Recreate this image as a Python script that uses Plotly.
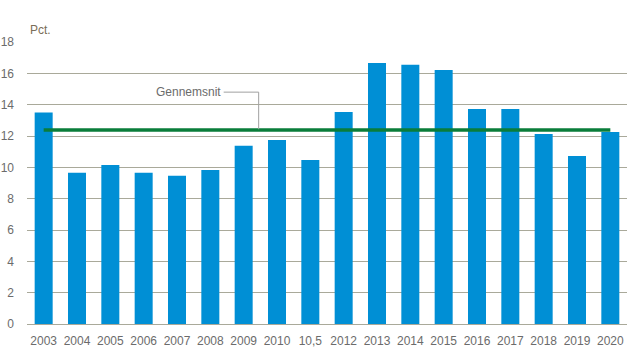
import plotly.graph_objects as go

categories = ["2003", "2004", "2005", "2006", "2007", "2008", "2009", "2010", "10,5",
              "2012", "2013", "2014", "2015", "2016", "2017", "2018", "2019", "2020"]
values = [13.5, 9.65, 10.15, 9.65, 9.47, 9.83, 11.37, 11.75, 10.47,
          13.53, 16.66, 16.55, 16.22, 13.73, 13.73, 12.13, 10.73, 12.25]
average = 12.38
y_ticks = [0, 2, 4, 6, 8, 10, 12, 14, 16, 18]

FONT = "Liberation Sans, Arial, sans-serif"
TXT = "#6b6b6b"
GRID = "#a9a99a"

fig = go.Figure()
fig.add_trace(go.Bar(x=categories, y=values, marker_color="#008fd5",
                     marker_line_width=0, width=0.54, showlegend=False))
fig.add_trace(go.Scatter(x=categories, y=[average] * len(categories), mode="lines",
                         line=dict(color="#0a7d3a", width=3.5), showlegend=False))

# label + elbow connector
fig.add_annotation(x=4.35, y=14.8, xref="x", yref="y", text="Gennemsnit",
                   showarrow=False, xanchor="center", yanchor="middle",
                   font=dict(family=FONT, size=12, color=TXT))
fig.add_shape(type="path", xref="x", yref="y",
              path=f"M 5.4 14.8 L 6.45 14.8 L 6.45 {average + 0.05}",
              line=dict(color="#a0a0a0", width=1))

fig.add_annotation(x=0, y=1, xref="paper", yref="paper", text="Pct.",
                   showarrow=False, xanchor="left", yanchor="bottom", xshift=1, yshift=3,
                   font=dict(family=FONT, size=12, color="#7a6e58"))

fig.update_layout(
    width=638, height=357,
    margin=dict(l=27, r=11, t=42, b=33),
    paper_bgcolor="white", plot_bgcolor="white",
    font=dict(family=FONT, size=12, color=TXT),
    xaxis=dict(type="category", showgrid=False, showline=False, ticks="",
               automargin=False, ticklabelstandoff=8, tickfont=dict(size=12, color=TXT),
               range=[-0.5, len(categories) - 0.5]),
    yaxis=dict(range=[0, 18], tickvals=y_ticks, showgrid=True, gridcolor=GRID,
               gridwidth=1, zeroline=True, zerolinecolor=GRID, zerolinewidth=1,
               showline=False, ticks="", ticklabelstandoff=12, automargin=False,
               tickfont=dict(size=12, color=TXT)),
)

fig.write_html("out.html", config={"displayModeBar": False},
               post_script="document.body.style.margin='0';")
